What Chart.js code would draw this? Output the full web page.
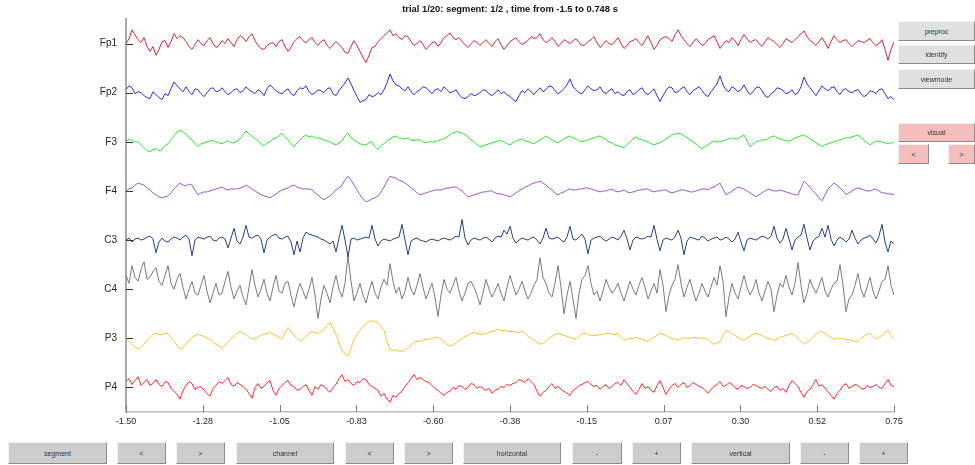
<!DOCTYPE html>
<html>
<head>
<meta charset="utf-8">
<title>trial 1/20</title>
<script src="https://cdn.jsdelivr.net/npm/chart.js@4.4.1/dist/chart.umd.min.js"></script>
<style>
  html, body { margin: 0; padding: 0; background: #fff; width: 975px; height: 465px; overflow: hidden;
               font-family: "Liberation Sans", Arial, sans-serif; }
  #wrap { position: absolute; left: 0; top: 0; width: 975px; height: 465px; }
  .btn { position: absolute; box-sizing: border-box; background: #cdcdcd;
         border: 1px solid; border-color: #f2f2f2 #8c8c8c #8c8c8c #f2f2f2;
         font-size: 7px; color: #333; display: flex; align-items: center; justify-content: center; }
  .btn.light { background: #e0e0e0; }
  .btn.pink { background: #f5bebe; }
</style>
</head>
<body>
<div id="wrap"><canvas id="eeg" width="975" height="465"></canvas></div>

<!-- side controls -->
<div class="btn light" style="left:898px;top:21px;width:77px;height:20px">preproc</div>
<div class="btn light" style="left:898px;top:45px;width:77px;height:19px">identify</div>
<div class="btn light" style="left:898px;top:69px;width:77px;height:20px">viewmode</div>
<div class="btn pink" style="left:898px;top:123px;width:77px;height:19px">visual</div>
<div class="btn pink" style="left:898px;top:144px;width:31px;height:20px">&lt;</div>
<div class="btn pink" style="left:948px;top:144px;width:27px;height:20px">&gt;</div>

<!-- bottom controls -->
<div class="btn" style="left:8px;top:442px;width:99px;height:22px">segment</div>
<div class="btn" style="left:117px;top:442px;width:49px;height:22px">&lt;</div>
<div class="btn" style="left:176px;top:442px;width:49px;height:22px">&gt;</div>
<div class="btn" style="left:236px;top:442px;width:98px;height:22px">channel</div>
<div class="btn" style="left:345px;top:442px;width:49px;height:22px">&lt;</div>
<div class="btn" style="left:404px;top:442px;width:49px;height:22px">&gt;</div>
<div class="btn" style="left:463px;top:442px;width:98px;height:22px">horizontal</div>
<div class="btn" style="left:572px;top:442px;width:50px;height:22px">-</div>
<div class="btn" style="left:632px;top:442px;width:49px;height:22px">+</div>
<div class="btn" style="left:691px;top:442px;width:99px;height:22px">vertical</div>
<div class="btn" style="left:800px;top:442px;width:49px;height:22px">-</div>
<div class="btn" style="left:859px;top:442px;width:49px;height:22px">+</div>

<script>
// Segment 1/2 of trial 1/20, 257 samples per channel from -1.5 s to 0.748 s (values in µV)
const T_START = -1.5;
const T_END = 0.748;

const channels = ['Fp1', 'Fp2', 'F3', 'F4', 'C3', 'C4', 'P3', 'P4'];
const timeTickLabels = ['-1.50', '-1.28', '-1.05', '-0.83', '-0.60', '-0.38', '-0.15', '0.07', '0.30', '0.52', '0.75'];

const fp1 = [
  0, 5, 14, 9, 4, 1, 6, -3, -8, -3, -12, -6, 2, 3, -4, 2, 10, 5, 8, 6,
  2, -3, -6, -1, 4, 0, -2, 3, 6, 0, -4, -2, 3, 0, 5, 1, -3, 4, 8, 6,
  2, 7, 10, 3, -2, -5, -6, -2, 0, 1, -3, 2, 4, -3, -8, -4, 2, 5, 7, 3,
  1, 4, 6, 1, -2, 2, 4, -2, -5, -1, 2, -1, -4, -9, -10, -3, 3, -2, -8, -14,
  -19, -12, -4, -3, 2, 5, 8, 11, 14, 8, 10, 6, 4, 8, 7, 2, -2, 0, 3, -1,
  -6, -3, 1, 2, -3, 1, 6, 8, 11, 6, 4, 6, 2, -1, -4, 0, 3, 1, -2, 1,
  4, 0, -3, 2, 5, -1, -6, -2, 2, 4, 6, 2, -1, 1, 3, 7, 5, 6, 10, 4,
  1, 3, 6, 2, -3, 0, 4, 2, 0, 3, 5, 1, -2, -1, 2, 4, 7, 1, -4, -1,
  3, 0, -1, 2, 6, 0, -5, -2, 2, 3, 5, 1, -2, 3, 8, 1, -6, -2, 4, 6,
  7, 5, 2, 9, 14, 8, 4, 0, -3, 1, 5, 2, -2, 0, 4, 6, 8, 2, -5, -1,
  3, 1, 6, 3, -2, 4, 9, 5, 1, 3, 4, 0, -3, 2, 6, 4, 2, -1, -4, 0,
  5, 3, 1, 4, 7, 10, 13, 7, 3, 1, -2, 2, 6, 1, -5, 2, 8, 4, 1, 3,
  4, 0, -3, 0, 3, 2, 1, 3, 5, 1, -2, 0, 4, -6, -17, -6, 2
];
const fp2 = [
  3, 7, 5, -1, 1, 0, -3, -5, -6, 1, -2, -5, -7, -1, -3, 4, 11, 7, 4, 1,
  6, 1, -2, 4, 3, -1, -4, 0, 4, 5, 1, 2, 5, 1, -2, 0, 3, 4, 0, 2,
  6, 3, 1, -1, 3, 1, -3, 4, 8, 5, 2, 0, -1, 2, 4, -1, -3, 2, 5, 4,
  7, 1, -2, 0, 3, 2, 0, 4, 5, -1, -3, 2, 6, 10, 15, 9, 2, -4, -10, -8,
  -7, -2, -4, -3, 0, -2, 3, 10, 19, 12, 8, 7, 4, 2, 6, 1, -2, 1, 3, 6,
  5, 2, -1, 3, 4, 1, 6, 3, 0, 1, 3, -2, -5, -6, -4, -1, -3, -2, 0, 3,
  2, -1, -3, 0, 3, -1, 1, -2, -4, -7, -9, -3, 2, 0, 4, 1, -2, 2, 5, 1,
  3, 7, 6, 2, -1, 1, 4, 8, 14, 6, 3, 0, -1, 3, 7, 4, 2, 3, 6, 1,
  -1, 2, 4, -1, 1, -2, -3, 1, 3, -2, 0, 3, 5, 0, -2, 1, 4, -3, -9, -3,
  2, 6, 5, 0, 1, 4, 6, 1, -2, 2, 4, 6, 2, -2, -4, 1, 5, 9, 17, 8,
  3, 1, 6, 4, 1, 3, 8, 2, -2, 1, 5, 6, 2, -3, -5, -1, 1, 5, 4, 2,
  -1, 0, 3, -2, 0, 6, 16, 9, 5, 1, -3, 2, 7, 4, 2, 5, 6, 1, -2, 3,
  4, 1, 0, 2, 3, -1, -4, -2, 2, 1, -1, 3, 4, -1, -6, -4, -7
];
const f3 = [
  1, 2, 2, 0, 0, -3, -6, -9, -10, -8, -7, -9, -8, -4, -2, 2, 6, 10, 12, 10,
  8, 4, 2, -2, -5, -2, -1, 0, 1, 1, 0, -1, -2, 0, 1, -1, -1, 1, 3, 7,
  11, 8, 6, 3, 1, -2, -4, -1, 0, 3, 4, 6, 9, 5, 2, -2, -5, -1, 2, 5,
  7, 5, 6, 4, 4, 3, 2, 1, 0, -2, -3, -1, 1, 6, 9, 4, 2, 0, -2, -3,
  -3, -1, 0, -5, -8, -4, -2, 1, 3, 5, 6, 4, 3, 3, 4, 2, 1, 2, 2, 0,
  -1, 0, 0, 0, 1, 2, 3, 5, 7, 9, 10, 10, 9, 7, 5, 2, 0, -3, -5, -4,
  -3, -2, -1, 0, 1, 1, 0, -2, -3, -1, 1, 2, 3, 1, 0, -1, -2, 0, 2, 4,
  6, 4, 2, 0, -1, 1, 3, 5, 6, 4, 3, 1, 0, 1, 2, 3, 4, 5, 6, 4,
  2, 0, -1, -3, -4, -5, -6, -3, 0, 3, 5, 3, 2, 1, 0, -2, -3, -2, -1, 1,
  3, 5, 7, 8, 9, 8, 6, 4, 2, 0, -2, -5, -7, -5, -3, -1, 1, 0, 0, 1,
  2, 3, 4, 3, 3, 5, 7, 1, -5, -2, 0, 1, 2, 2, 3, 5, 6, 4, 3, 2,
  1, 1, 2, 4, 5, 6, 7, 5, 3, 1, -1, -3, -5, -3, -2, -1, 0, 1, 2, 3,
  4, 4, 5, 6, 7, 4, 2, -1, -3, -1, 1, 0, 0, -1, -2, -1, -1
];
const f4 = [
  0, 2, 3, 6, 8, 7, 6, 3, 1, -2, -4, -6, -7, -6, -5, -2, 2, 5, 8, 6,
  5, 7, 6, 1, -4, -2, -1, -1, 0, 1, 2, 3, 4, 2, 1, 2, 2, 2, 3, 4,
  6, 4, 2, 0, -2, -4, -5, -6, -7, -5, -3, -1, 1, 2, 3, 5, 6, 4, 3, 2,
  2, 2, 1, -2, -4, -7, -9, -7, -5, -2, 1, 3, 6, 11, 15, 11, 6, 1, -4, -8,
  -11, -10, -8, -7, -5, -1, 4, 10, 15, 14, 13, 11, 10, 8, 6, 3, 1, -2, -4, -3,
  -2, -1, 0, 1, 1, 1, 2, 3, 3, 4, 4, 2, 0, -3, -6, -5, -4, -3, -2, -1,
  -1, 0, 0, -2, -3, -3, -4, -5, -6, -4, -2, 0, 2, 4, 5, 7, 8, 9, 10, 8,
  6, 3, 1, -2, -4, -2, -1, 1, 2, 1, 1, 2, 2, 3, 3, 2, 1, 0, -1, 0,
  0, 1, 2, 0, -1, 0, 1, -1, -2, -1, 0, 1, 1, 2, 2, 0, -1, 0, 0, 1,
  1, -1, -2, -1, 0, 1, 1, 0, -1, -1, 0, 1, 2, 2, 1, 3, 4, 6, 8, 2,
  -4, -2, 0, 2, 4, 3, 2, 0, -2, -4, -6, -4, -2, 0, 2, 1, 0, 0, 1, 0,
  -1, -2, -3, -4, -4, 3, 10, 7, 4, 0, -3, -7, -10, -4, 2, 5, 8, 6, 3, 0,
  -4, -2, 0, 2, 3, 2, 1, 0, 0, 1, 2, 0, -2, -2, -3, -3, -4
];
const c3 = [
  0, 2, -2, 1, 2, 0, 1, 3, 4, 1, -13, -2, 2, -1, -2, 1, 3, 2, 0, 3,
  5, 1, -16, 0, 3, 2, 1, 3, 4, 0, -1, 2, 3, 1, -8, 2, 12, -1, -4, 3,
  15, 3, 2, 4, 5, 1, -13, 0, 3, 5, 6, 2, 1, 3, 4, -2, -15, -1, -12, 2,
  8, 6, 5, 4, 3, 1, 0, -2, -4, -1, -12, 2, 15, 0, -17, 1, 2, 0, 1, 2,
  3, 2, 15, 1, -6, -1, 1, 0, -1, 1, 2, 3, 16, 0, -15, -1, 1, 2, 0, -1,
  -2, 0, 1, 0, -1, 1, 2, 1, 0, 2, 4, 3, 21, 2, -5, 0, 2, 1, 0, 2,
  3, 1, -2, 2, 4, 3, 10, 6, 14, 2, -3, 0, 2, 1, 0, 2, 3, 0, -4, 2,
  12, 2, 1, 2, 3, 0, -2, 3, 14, 1, 0, 3, 6, 1, -14, 0, 2, 3, 4, 1,
  -1, 1, 3, 2, 0, 4, 10, 1, -10, 0, 3, 2, 1, 2, 4, 3, 15, 1, -11, 0,
  2, 1, 0, 3, 10, 2, -15, -1, 3, 2, 1, 0, 4, 2, -1, 1, 2, 3, 0, 1,
  3, 1, -2, 1, 8, -2, -11, 0, 2, 1, 0, 2, 4, 3, 1, 4, 14, 2, -3, 1,
  12, 1, -10, 0, 3, 5, 16, 2, -10, -1, 2, 4, 12, 3, 15, 1, -6, 0, 3, 1,
  -2, 1, 10, 2, -4, 0, 2, 3, 5, 1, -3, 4, 16, -2, -12, -1, -4
];
const c4 = [
  14, 6, 24, 12, 8, 20, 28, 10, 12, 18, 22, 8, 4, 14, 24, 6, 0, 10, 16, 2,
  -10, 0, 8, -4, -6, 4, 14, -2, -14, -4, 6, -6, -4, 8, 18, 2, -10, -2, 4, -8,
  -16, 2, 20, 4, -8, 0, 10, -4, -12, 2, 14, -2, -4, 6, 8, -6, -18, -4, 6, -2,
  -10, 0, 12, -6, -30, -10, 4, -4, -14, 2, 14, 0, -8, 6, 34, 8, -12, -4, 6, -6,
  -14, -2, 8, -4, -10, 2, 10, 4, 26, 8, -4, 2, -10, -2, 12, 0, -6, 4, 16, 2,
  -10, -2, 6, -8, -28, -6, 10, 0, -4, 4, 12, -2, -12, -4, 6, 8, 2, -6, -16, -4,
  10, 0, -8, -2, 6, -4, -12, 2, 14, 4, -6, 0, 8, -2, -10, -4, 4, 10, 32, 12,
  6, -4, -8, 6, 24, 2, -25, -6, 8, -10, -30, -4, 10, 14, 24, 6, -6, -2, -12, -2,
  10, 2, -4, 0, 6, -4, -12, -2, 8, 0, -6, 4, 12, 2, -10, -2, 6, -4, 20, 4,
  -23, -6, 4, 10, 25, 6, -8, 2, 10, -2, -12, -4, 6, -2, -8, 2, 12, 4, 24, 8,
  -28, -8, 6, -4, -10, 2, 14, 2, -6, 0, 10, -4, -12, -2, 8, 0, -23, -6, 6, 2,
  14, 2, -6, 6, 27, 4, -14, -4, 10, 2, -4, 4, 12, -2, -8, 0, 6, 8, 25, 4,
  -23, -10, -6, 4, 16, 0, -8, 2, 12, -2, -10, -2, 8, 10, 24, 4, -6
];
const p3 = [
  0, -3, -6, -9, -11, -9, -6, -2, 1, 4, 5, 4, 4, 5, 5, 1, -3, -7, -11, -9,
  -6, -2, 1, 3, 4, 3, 2, 0, -1, -4, -6, -8, -10, -7, -4, -1, 2, 5, 7, 5,
  4, 1, -1, 0, 1, 3, 4, 5, 6, 4, 3, 1, -1, 6, 11, 7, 3, 0, -3, -1,
  2, 5, 7, 6, 5, 7, 9, 13, 16, 10, 4, -5, -12, -16, -18, -10, -1, 4, 8, 12,
  15, 17, 18, 17, 16, 12, 8, -3, -12, -12, -12, -13, -13, -12, -10, -7, -4, -3, -3, -2,
  -1, -1, 0, 1, 1, -1, -3, -6, -8, -7, -5, -2, 0, 2, 3, 5, 6, 5, 4, 4,
  5, 6, 7, 8, 9, 8, 8, 7, 7, 7, 6, 6, 7, 5, 2, 0, -2, -4, -6, -5,
  -3, 0, 2, 4, 5, 4, 3, 2, 1, 0, -1, 2, 5, 5, 4, 3, 3, 3, 4, 4,
  5, 5, 4, 4, 5, 1, -2, -1, 0, 0, 1, 0, -1, -2, -3, -1, 1, 3, 5, 4,
  3, 1, 0, -1, -2, -1, 1, 0, 0, 1, 1, 0, 0, 0, -1, -4, -6, -5, -3, 3,
  8, 7, 5, 3, 1, -1, -2, 0, 2, 4, 5, 4, 3, 1, 0, -1, -2, -1, 1, 2,
  3, 4, 5, 3, 0, -3, -6, -4, -2, 1, 4, 6, 7, 5, 3, 1, -1, 0, 0, -1,
  -1, -1, -2, -3, -3, 0, 2, 4, 5, 2, -1, 1, 3, 6, 8, 3, -1
];
const p4 = [
  6, 9, 3, 7, 11, 2, 5, 8, 2, 4, 8, 3, 1, 6, 5, -1, -4, -7, -12, -3,
  2, 6, 4, -2, 0, 1, -3, -6, -9, -1, 2, 6, 4, 7, 10, 3, 1, 5, 3, 1,
  -2, -6, -11, 0, 4, -1, 1, 5, 7, -3, -8, -1, 2, 5, 7, 2, 1, -3, -2, 1,
  3, -3, -8, 1, -2, 3, 1, -2, -5, 0, 3, 9, 13, 6, 8, 4, 2, 6, 5, 9,
  8, 3, 1, -1, -3, -9, -6, -12, -15, -8, -10, -6, -4, 1, 5, 9, 13, 8, 10, 8,
  6, 5, 2, -1, -3, -6, -8, -5, -4, 0, -2, 2, 1, -2, 0, 4, 3, -1, 1, -1,
  -3, -1, -6, -3, -2, 1, 0, 3, 2, 4, 5, 8, 7, 5, 9, 6, 3, -4, -9, -5,
  -3, 1, 4, -1, 1, -2, -4, -6, -8, -3, -1, 2, 3, 5, 6, 3, 1, 2, -2, 1,
  3, -1, 1, 4, 5, 2, 8, 4, 0, -4, -7, -2, 4, -1, 1, -3, -5, 2, 7, 0,
  -7, -2, 2, 4, 0, 3, 5, 0, 2, 5, 3, 1, 0, -3, -6, -2, 1, 3, 6, 1,
  2, 5, 3, 0, -2, 2, 1, -1, 0, 3, 2, 0, -1, 1, -2, -4, 0, 1, -3, -1,
  -5, 2, 7, 4, 1, -5, -10, -4, -2, 3, 8, 1, 3, -1, -4, -8, -12, -6, -3, 2,
  4, -1, 1, 3, 2, -1, -2, 2, 0, 1, 3, 0, -1, 4, 8, 2, 1
];

const series = [fp1, fp2, f3, f4, c3, c4, p3, p4];

// drawing style
const traceColors = ['#d42a2a', '#2b2bf0', '#2ee62e', '#9a5ccb', '#22407f', '#7a7a7a', '#f9c132', '#ff2a2a'];
const LANE_UV = 50;             // vertical distance between channel baselines, in µV
const FONT = '"Liberation Sans", Arial, sans-serif';

const SAMPLES = 257;
const dt = (T_END - T_START) / (SAMPLES - 1);

const datasets = series.map((vals, k) => ({
  label: channels[k],
  data: vals.map((v, i) => ({ x: T_START + i * dt, y: k + 0.5 - v / LANE_UV })),
  borderColor: traceColors[k],
  borderWidth: 1,
  pointRadius: 0,
  tension: 0,
  fill: false
}));

// inward tick marks on both axes, drawn beneath the traces
const innerTicks = {
  id: 'innerTicks',
  beforeDatasetsDraw(chart) {
    const { ctx, chartArea: a, scales: { x, y } } = chart;
    ctx.save();
    ctx.strokeStyle = '#7d7d7d';
    ctx.lineWidth = 1;
    ctx.beginPath();
    x.ticks.forEach(t => {
      const px = Math.round(x.getPixelForValue(t.value)) + 0.5;
      ctx.moveTo(px, a.bottom);
      ctx.lineTo(px, a.bottom - 7);
    });
    ctx.stroke();
    ctx.strokeStyle = '#333';
    ctx.beginPath();
    y.ticks.forEach(t => {
      const py = Math.round(y.getPixelForValue(t.value)) + 0.5;
      ctx.moveTo(a.left, py);
      ctx.lineTo(a.left + 7, py);
    });
    ctx.stroke();
    ctx.restore();
  }
};

// heading centred over the plotting area
const heading = {
  id: 'heading',
  afterDraw(chart) {
    const { ctx, chartArea: a } = chart;
    ctx.save();
    ctx.font = 'bold 9.4px ' + FONT;
    ctx.fillStyle = '#111';
    ctx.textAlign = 'center';
    ctx.textBaseline = 'middle';
    ctx.fillText('trial 1/20: segment: 1/2 , time from -1.5 to 0.748 s', (a.left + a.right) / 2, 9.5);
    ctx.restore();
  }
};

new Chart(document.getElementById('eeg'), {
  type: 'line',
  data: { datasets },
  plugins: [innerTicks, heading],
  options: {
    responsive: false,
    animation: false,
    devicePixelRatio: 1,
    layout: { padding: { top: 19, right: 81, left: 0, bottom: 0 } },
    plugins: {
      legend: { display: false },
      tooltip: { enabled: false },
      title: { display: false }
    },
    scales: {
      x: {
        type: 'linear',
        min: T_START,
        max: T_END,
        afterBuildTicks(scale) {
          scale.ticks = timeTickLabels.map((_, k) => ({ value: T_START + k * (T_END - T_START) / (timeTickLabels.length - 1) }));
        },
        afterFit(scale) { scale.height = 53; },
        ticks: {
          autoSkip: false,
          maxRotation: 0,
          padding: 4,
          color: '#262626',
          font: { family: FONT, size: 9 },
          callback: (v, idx) => timeTickLabels[idx]
        },
        grid: { drawOnChartArea: false, drawTicks: false },
        border: { display: true, color: '#bdbdbd', width: 1.5 },
        title: {
          display: true,
          text: 'time',
          color: '#262626',
          font: { family: FONT, size: 9 },
          padding: { top: 2, bottom: 0 }
        }
      },
      y: {
        type: 'linear',
        reverse: true,
        min: 0,
        max: channels.length,
        afterBuildTicks(scale) {
          scale.ticks = channels.map((_, k) => ({ value: k + 0.5 }));
        },
        afterFit(scale) { scale.width = 126; },
        ticks: {
          autoSkip: false,
          padding: 9,
          color: '#262626',
          font: { family: FONT, size: 10 },
          callback: (v, idx) => channels[idx]
        },
        grid: { drawOnChartArea: false, drawTicks: false },
        border: { display: true, color: '#a8a8a8', width: 2 }
      }
    }
  }
});
</script>
</body>
</html>
